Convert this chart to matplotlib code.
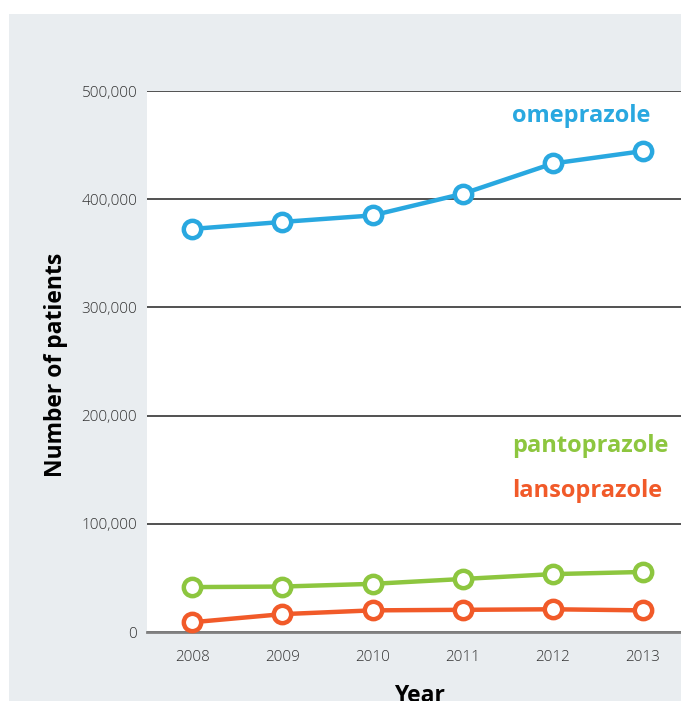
import matplotlib.pyplot as plt
from matplotlib.patches import Rectangle
from matplotlib.ticker import FuncFormatter

# data
years = [2008, 2009, 2010, 2011, 2012, 2013]
omeprazole = [372500, 379000, 385000, 405000, 433000, 444500]
pantoprazole = [41500, 42000, 44500, 49000, 53500, 55500]
lansoprazole = [9000, 16500, 20000, 20500, 21000, 20000]
y_ticks = [0, 100000, 200000, 300000, 400000, 500000]

series = [
    ("omeprazole", omeprazole, "#29A8E0", 116),
    ("pantoprazole", pantoprazole, "#8DC63F", 446),
    ("lansoprazole", lansoprazole, "#F15A29", 491),
]

W, H = 681, 701
fig = plt.figure(figsize=(W / 100, H / 100), dpi=100)
fig.patch.set_facecolor("white")
# light grey panel behind the chart
fig.patches.append(Rectangle((9 / W, 0), 1 - 9 / W, (H - 14) / H, transform=fig.transFigure,
                             facecolor="#E9EDF0", edgecolor="none", zorder=-10))

ax = fig.add_axes([147 / W, (H - 632) / H, 1 - 147 / W, (632 - 91) / H])
ax.set_facecolor("white")

for name, vals, color, label_y in series:
    ax.plot(years, vals, color=color, lw=3.2, marker="o", ms=12.5, mfc="white",
            mec=color, mew=3.2, zorder=4, clip_on=False)
    fig.text(512 / W, 1 - label_y / H, name, color=color, fontsize=17, fontweight="bold",
             family="Open Sans", ha="left", va="center")

ax.set_xlim(2007.5, 2013.42)
ax.set_ylim(0, 500000)
ax.set_yticks(y_ticks)
ax.set_xticks(years)
ax.yaxis.set_major_formatter(FuncFormatter(lambda v, p: f"{int(v):,}"))
ax.grid(axis="y", color="#222222", lw=1.1, zorder=1)
ax.tick_params(length=0, labelsize=11, labelcolor="#333333", pad=7)
ax.tick_params(axis="x", pad=13)
for lbl in ax.get_xticklabels() + ax.get_yticklabels():
    lbl.set_family("Open Sans")
    lbl.set_fontweight("light")
for s in ax.spines.values():
    s.set_visible(False)
ax.axhline(0, color="#808080", lw=2, zorder=2, clip_on=False)

ax.set_ylabel("Number of patients", fontsize=16.5, fontweight="bold", family="Open Sans", color="black")
ax.yaxis.set_label_coords(-(147 - 68) / (W - 147), 0.493)
ax.set_xlabel("Year", fontsize=16.5, fontweight="bold", family="Open Sans", color="black")
ax.xaxis.set_label_coords((419 - 147) / (W - 147), -(684 - 632) / (632 - 91))

fig.savefig("out.png", dpi=100)
